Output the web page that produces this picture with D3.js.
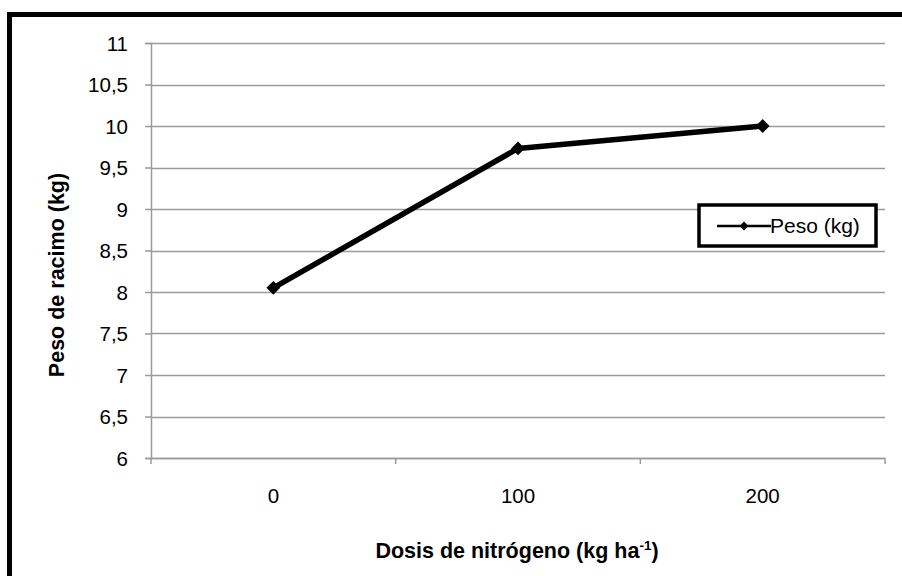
<!DOCTYPE html>
<html>
<head>
<meta charset="utf-8">
<script src="https://cdn.jsdelivr.net/npm/d3@7"></script>
<style>
  html, body { margin: 0; padding: 0; background: #fff; }
  svg { display: block; font-family: "Liberation Sans", Arial, sans-serif; }
</style>
</head>
<body>
<svg id="chart" width="902" height="576"></svg>
<script>
// Nitrogen dose categories and bunch weight (kg)
const doses = ["0", "100", "200"];
const weights = [8.05, 9.73, 10.0];
const yTicks = [6, 6.5, 7, 7.5, 8, 8.5, 9, 9.5, 10, 10.5, 11];
const seriesName = "Peso (kg)";

const FONT = "Liberation Sans, Arial, sans-serif";
const FS = 20.5;
const FS_TITLE = 21.5;
const svg = d3.select("#chart");
const plot = { left: 151, right: 885, top: 43, bottom: 458 };

// outer frame (runs off the right and bottom edges)
svg.append("rect")
  .attr("x", 9.5).attr("y", 14.5)
  .attr("width", 1000).attr("height", 1000)
  .attr("fill", "none").attr("stroke", "#000").attr("stroke-width", 5);

const x = d3.scaleBand().domain(doses).range([plot.left, plot.right]).padding(0);
const y = d3.scaleLinear().domain([6, 11]).range([plot.bottom, plot.top]);

// horizontal gridlines
svg.append("g").selectAll("line").data(yTicks).join("line")
  .attr("x1", plot.left).attr("x2", plot.right)
  .attr("y1", d => Math.round(y(d)) + 0.5).attr("y2", d => Math.round(y(d)) + 0.5)
  .attr("stroke", "#9a9a9a").attr("stroke-width", 1.5);

// y axis
const fmt = d => String(d).replace(".", ",");
const yAxis = svg.append("g")
  .attr("transform", `translate(${plot.left},0)`)
  .call(d3.axisLeft(y).tickValues(yTicks).tickFormat(fmt).tickSize(6).tickPadding(17));
yAxis.select(".domain").attr("stroke", "#9a9a9a").attr("stroke-width", 1.5);
yAxis.selectAll(".tick line").attr("stroke", "#9a9a9a").attr("stroke-width", 1.5);
yAxis.selectAll(".tick text").attr("font-size", FS).attr("fill", "#000")
  .attr("font-family", FONT).attr("dy", "0.36em");

// x axis with ticks at category boundaries
const xAxisG = svg.append("g").attr("transform", `translate(0,${plot.bottom})`);
xAxisG.append("line")
  .attr("x1", plot.left).attr("x2", plot.right).attr("y1", 0.5).attr("y2", 0.5)
  .attr("stroke", "#9a9a9a").attr("stroke-width", 1.5);
const bounds = doses.map(d => x(d)).concat([x(doses[doses.length - 1]) + x.bandwidth()]);
xAxisG.selectAll("line.tk").data(bounds).join("line").attr("class", "tk")
  .attr("x1", d => d).attr("x2", d => d).attr("y1", 0).attr("y2", 6)
  .attr("stroke", "#9a9a9a").attr("stroke-width", 1.5);
xAxisG.selectAll("text").data(doses).join("text")
  .attr("x", d => x(d) + x.bandwidth() / 2).attr("y", 45)
  .attr("text-anchor", "middle").attr("font-size", FS).attr("fill", "#000")
  .attr("font-family", FONT)
  .text(d => d);

// series line
const cx = d => x(d) + x.bandwidth() / 2;
const line = d3.line().x((d, i) => cx(doses[i])).y(d => y(d));
svg.append("path").datum(weights)
  .attr("d", line).attr("fill", "none")
  .attr("stroke", "#000").attr("stroke-width", 5.5).attr("stroke-linejoin", "round");

// diamond markers (square rotated 45°)
const marker = d3.symbol().type(d3.symbolSquare).size(95);
svg.append("g").selectAll("path").data(weights).join("path")
  .attr("d", marker)
  .attr("transform", (d, i) => `translate(${cx(doses[i])},${y(d)}) rotate(45)`)
  .attr("fill", "#000");

// axis titles
svg.append("text")
  .attr("x", (plot.left + plot.right) / 2 - 1).attr("y", 558)
  .attr("text-anchor", "middle").attr("font-size", FS_TITLE).attr("font-weight", "bold")
  .call(t => {
    t.append("tspan").text("Dosis de nitrógeno (kg ha");
    t.append("tspan").attr("font-size", 13.5).attr("dy", -8).text("-1");
    t.append("tspan").attr("dy", 8).text(")");
  });

svg.append("text")
  .attr("transform", `translate(64,275) rotate(-90)`)
  .attr("text-anchor", "middle").attr("font-size", FS_TITLE).attr("font-weight", "bold")
  .text("Peso de racimo (kg)");

// legend
const lg = svg.append("g").attr("transform", "translate(699,205)");
lg.append("rect").attr("width", 177).attr("height", 41)
  .attr("fill", "#fff").attr("stroke", "#000").attr("stroke-width", 3.5);
lg.append("line").attr("x1", 18).attr("x2", 72).attr("y1", 21).attr("y2", 21)
  .attr("stroke", "#000").attr("stroke-width", 2.5);
lg.append("path").attr("d", d3.symbol().type(d3.symbolSquare).size(40))
  .attr("transform", "translate(45,21) rotate(45)").attr("fill", "#000");
lg.append("text").attr("x", 71).attr("y", 28)
  .attr("font-size", 21).attr("fill", "#000").text(seriesName);
</script>
</body>
</html>
